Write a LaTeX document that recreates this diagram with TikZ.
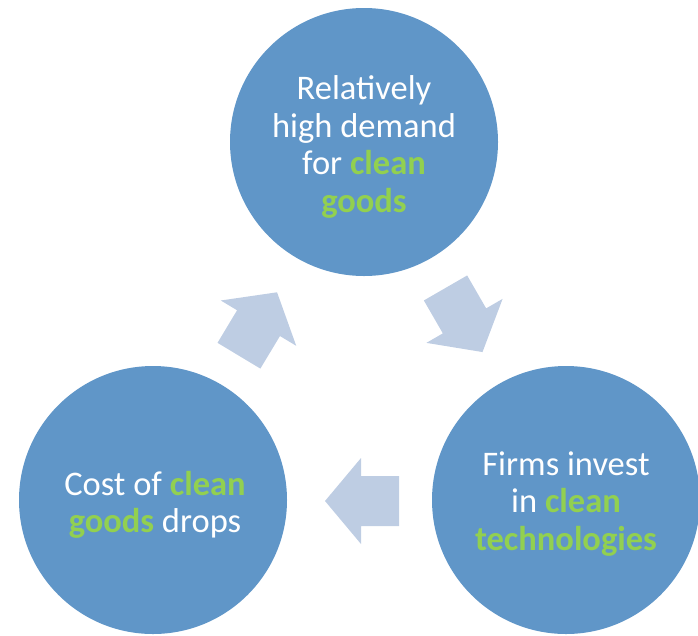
\documentclass[tikz,border=0pt]{standalone}
\usepackage{fontspec}
\setmainfont{Carlito}
\usetikzlibrary{positioning}
\definecolor{bubbleblue}{RGB}{96,150,200}
\definecolor{arrowgrey}{RGB}{190,205,227}
\definecolor{cleangreen}{RGB}{146,208,80}
\newcommand{\clean}[1]{\textcolor{cleangreen}{\bfseries #1}}

\begin{document}
\begin{tikzpicture}[x=1pt,y=-1pt,
  bubble/.style={circle,fill=bubbleblue,minimum size=268pt,inner sep=0pt},
  bubbletext/.style={text=white,align=center,font=\fontsize{34.5}{37.5}\selectfont},
  blockarrow/.style={fill=arrowgrey}]
\useasboundingbox (0,0) rectangle (698,635);

\node[bubble] (demand) at (364,142) {};
\node[bubble] (invest) at (566,500) {};
\node[bubble] (cost) at (153,500) {};
\node[bubbletext] (demandtext) at (364,147)
  {Relatively\\high demand\\for \clean{clean}\\\clean{goods}};
\node[bubbletext] (investtext) at (566,504)
  {Firms invest\\in \clean{clean}\\\clean{technologies}};
\node[bubbletext] (costtext) at (155,505)
  {Cost of \clean{clean}\\\clean{goods} drops};

% block arrows between the bubbles
\fill[blockarrow,shift={(258,324)},rotate=59]
  (-37,-25) -- (1,-25) -- (1,-44) -- (37,0) -- (1,44) -- (1,25) -- (-37,25) -- cycle;
\fill[blockarrow,shift={(464,320)},rotate=-60]
  (-37,-25) -- (1,-25) -- (1,-44) -- (37,0) -- (1,44) -- (1,25) -- (-37,25) -- cycle;
\fill[blockarrow,shift={(362,501)},rotate=180]
  (-37,-25) -- (1,-25) -- (1,-43) -- (37,0) -- (1,43) -- (1,25) -- (-37,25) -- cycle;
\end{tikzpicture}
\end{document}
